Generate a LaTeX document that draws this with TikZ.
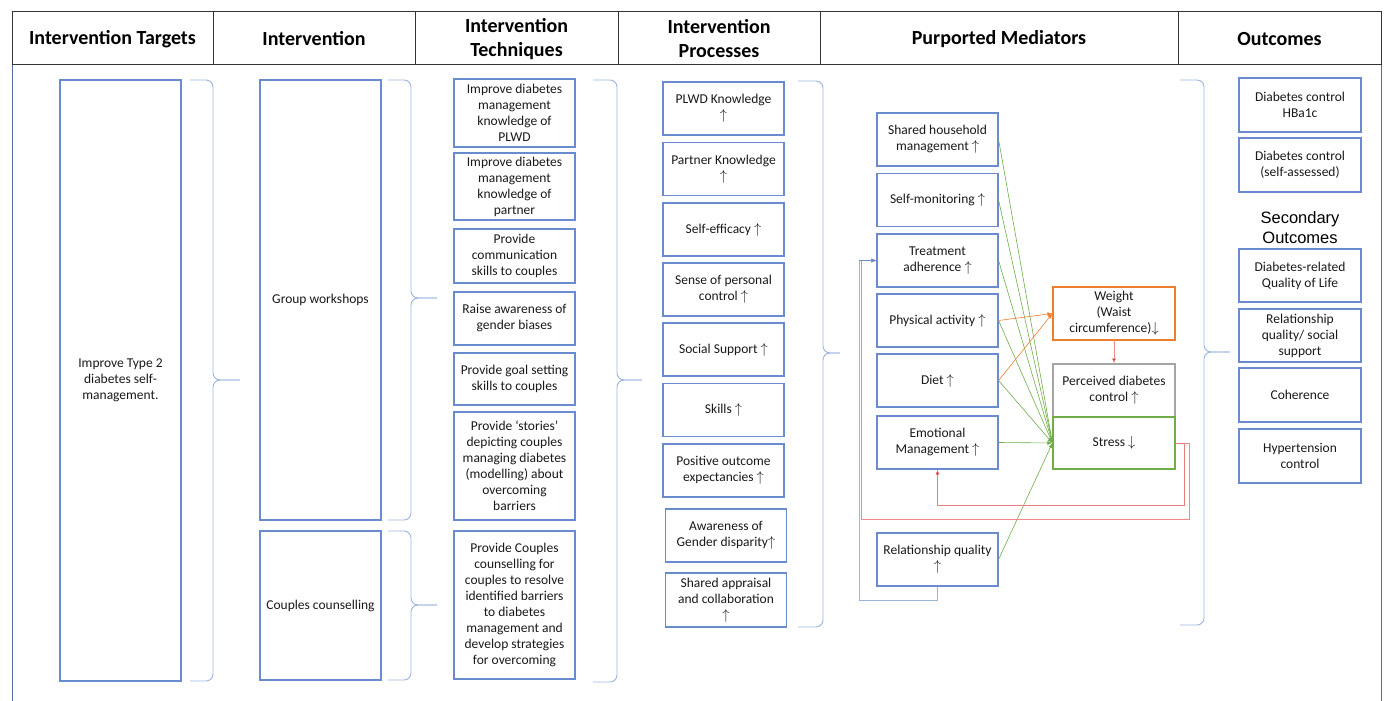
\documentclass[tikz,border=0pt]{standalone}
\usepackage{fontspec}
\setmainfont{Carlito}
\newfontfamily\arialfont{Liberation Sans}
\usetikzlibrary{arrows.meta}
\definecolor{boxblue}{HTML}{6A8BCF}
\definecolor{braceblue}{HTML}{9DB4DE}
\definecolor{medgreen}{HTML}{70AD47}
\definecolor{medorange}{HTML}{ED7D31}
\definecolor{fbred}{HTML}{C00000}
\definecolor{fbpink}{HTML}{F08A8A}
\definecolor{boxgray}{HTML}{A5A5A5}

\begin{document}
\begin{tikzpicture}[x=1pt, y=-1pt,
  box/.style={draw=boxblue, line width=1.1pt, align=center, text=black!90, font=\fontsize{13.5}{16}\selectfont, minimum width=121pt, minimum height=53pt, inner sep=1pt},
  hdr/.style={font=\fontsize{20}{24}\selectfont\bfseries, align=center},
  brc/.style={draw=braceblue, line width=0.9pt, rounded corners=7pt},
  link/.style={line width=0.6pt, -{Latex[length=5pt,width=4pt]}}]
  \useasboundingbox (0,0) rectangle (1385,701);

  % header row
  \draw[black!80, line width=1pt] (12,12) rectangle (1381,65);
  \draw[black!80, line width=1pt] (213,12) -- (213,65) (415,12) -- (415,65) (618,12) -- (618,65) (820,12) -- (820,65) (1178,12) -- (1178,65);
  \draw[boxblue!80!black, line width=1pt] (12,65) -- (12,701) (1381,65) -- (1381,701);
  \node[hdr] (hTarget) at (112.5,39) {Intervention Targets};
  \node[hdr] (hInterv) at (314,39) {Intervention};
  \node[hdr] (hTech) at (516.5,39) {Intervention\\Techniques};
  \node[hdr] (hProc) at (719,39) {Intervention\\Processes};
  \node[hdr] (hMed) at (999,39) {Purported Mediators};
  \node[hdr] (hOut) at (1279.5,39) {Outcomes};

  % targets and interventions
  \node[box, minimum height=601pt] (target) at (120.5,380.5) {Improve Type 2\\diabetes self-\\management.};
  \node[box, minimum height=440pt] (workshops) at (320.5,300) {Group workshops};
  \node[box, minimum height=149pt] (counsel) at (320.5,605.5) {Couples counselling};

  % techniques
  \node[box, minimum height=68pt] (t1) at (514.5,113) {Improve diabetes\\management\\knowledge of\\PLWD};
  \node[box, minimum height=67pt] (t2) at (514.5,186.5) {Improve diabetes\\management\\knowledge of\\partner};
  \node[box, minimum height=54pt] (t3) at (514.5,256) {Provide\\communication\\skills to couples};
  \node[box] (t4) at (514.5,318.5) {Raise awareness of\\gender biases};
  \node[box, minimum height=52pt] (t5) at (514.5,379) {Provide goal setting\\skills to couples};
  \node[box, minimum height=108pt] (t6) at (514.5,466) {Provide ‘stories’\\depicting couples\\managing diabetes\\(modelling) about\\overcoming\\barriers};
  \node[box, minimum height=148pt] (t7) at (514.5,605) {Provide Couples\\counselling for\\couples to resolve\\identified barriers\\to diabetes\\management and\\develop strategies\\for overcoming};

  % processes
  \node[box] (p1) at (723.5,108.5) {PLWD Knowledge\\$\uparrow$};
  \node[box] (p2) at (723.5,169) {Partner Knowledge\\$\uparrow$};
  \node[box] (p3) at (723.5,229.5) {Self-efficacy $\uparrow$};
  \node[box] (p4) at (723.5,289.5) {Sense of personal\\control $\uparrow$};
  \node[box] (p5) at (723.5,349.5) {Social Support $\uparrow$};
  \node[box] (p6) at (723.5,410) {Skills $\uparrow$};
  \node[box] (p7) at (723.5,470.5) {Positive outcome\\expectancies $\uparrow$};
  \node[box] (p8) at (726,535.5) {Awareness of\\Gender disparity$\uparrow$};
  \node[box, minimum height=54pt] (p9) at (726,600) {Shared appraisal\\and collaboration\\$\uparrow$};

  % mediators
  \node[box] (m1) at (937.5,139.5) {Shared household\\management $\uparrow$};
  \node[box] (m2) at (937.5,200) {Self-monitoring $\uparrow$};
  \node[box] (m3) at (937.5,260.5) {Treatment\\adherence $\uparrow$};
  \node[box] (m4) at (937.5,320.5) {Physical activity $\uparrow$};
  \node[box] (m5) at (937.5,380.5) {Diet $\uparrow$};
  \node[box] (m6) at (937.5,442.5) {Emotional\\Management $\uparrow$};
  \node[box] (m7) at (937.5,559.5) {Relationship quality\\$\uparrow$};
  \node[box, draw=medorange, minimum width=122pt] (weight) at (1114,313.5) {Weight\\(Waist\\circumference)$\downarrow$};
  \node[box, draw=boxgray, minimum width=122pt] (perceived) at (1114,390.5) {Perceived diabetes\\control $\uparrow$};
  \node[box, draw=medgreen, minimum width=122pt, minimum height=52pt] (stress) at (1114,443) {Stress $\downarrow$};

  % outcomes
  \node[box, minimum width=122pt, minimum height=54pt] (o1) at (1300,105) {Diabetes control\\HBa1c};
  \node[box, minimum width=122pt, minimum height=54pt] (o2) at (1300,165) {Diabetes control\\(self-assessed)};
  \node[font=\arialfont\fontsize{16.5}{20}\selectfont, align=center] (secondary) at (1300,228) {Secondary\\Outcomes};
  \node[box, minimum width=122pt] (o3) at (1300,275.5) {Diabetes-related\\Quality of Life};
  \node[box, minimum width=122pt] (o4) at (1300,335.5) {Relationship\\quality/ social\\support};
  \node[box, minimum width=122pt, minimum height=54pt] (o5) at (1300,395) {Coherence};
  \node[box, minimum width=122pt, minimum height=54pt] (o6) at (1300,456) {Hypertension\\control};

  % braces
  \draw[brc] (190,80) -| (213,380) -- (240,380);
  \draw[brc] (190,681) -| (213,380) -- (240,380);
  \draw[brc] (388,80) -| (411,298) -- (437,298);
  \draw[brc] (388,520) -| (411,298) -- (437,298);
  \draw[brc] (388,531) -| (411,605) -- (437,605);
  \draw[brc] (388,680) -| (411,605) -- (437,605);
  \draw[brc] (593,80) -| (617,380) -- (642,380);
  \draw[brc] (593,682) -| (617,380) -- (642,380);
  \draw[brc] (798,81) -| (823,353) -- (840,353);
  \draw[brc] (798,627) -| (823,353) -- (840,353);
  \draw[brc] (1180,80) -| (1204,352) -- (1230,352);
  \draw[brc] (1180,625) -| (1204,352) -- (1230,352);

  % mediator links
  \draw[link, medgreen] (m1.east) -- (stress.west);
  \draw[link, medgreen] (m2.east) -- (stress.west);
  \draw[link, medgreen] (m3.east) -- (stress.west);
  \draw[link, medgreen] (m4.east) -- (stress.west);
  \draw[link, medgreen] (m5.east) -- (stress.west);
  \draw[link, medgreen] (m6.east) -- (stress.west);
  \draw[link, medgreen] (m7.east) -- (stress.west);
  \draw[link, medorange] (m4.east) -- (weight.west);
  \draw[link, medorange] (m5.east) -- (weight.west);
  \draw[link, fbpink, -{Latex[length=5pt,width=4pt,fill=fbred]}] (weight.south) -- (perceived.north);

  % feedback loops
  \draw[link, fbpink] (stress.east) -- (1189,443) -- (1189,519) -- (861,519) -- (861,260.5) -- (m3.west);
  \draw[link, fbpink!90!fbred, -{Latex[length=5pt,width=4pt,fill=fbred]}] (stress.east) -- (1184,443) -- (1184,505) -- (937.5,505) -- (m6.south);
  \draw[link, braceblue] (m7.south) -- (937.5,600) -- (859,600) -- (859,260.5) -- (m3.west);
  \draw[link, boxblue] (859,260.5) -- (m3.west);
\end{tikzpicture}
\end{document}
